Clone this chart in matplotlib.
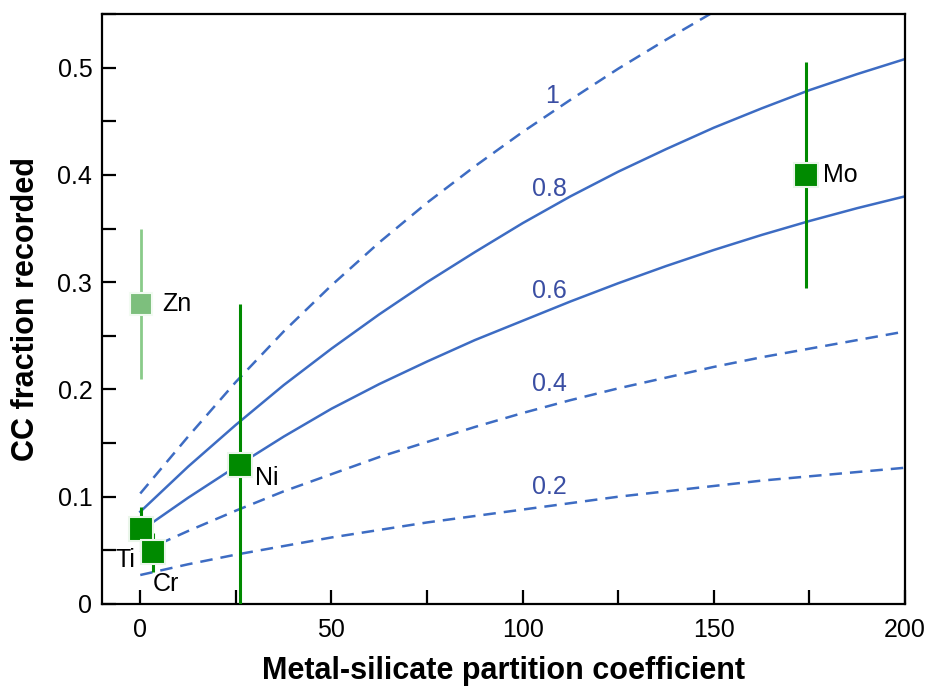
import matplotlib
matplotlib.use("Agg")
import matplotlib.pyplot as plt
from matplotlib.ticker import MultipleLocator, FuncFormatter

plt.rcParams['font.family'] = ['Liberation Sans', 'DejaVu Sans']

# Model curves (fraction labels)
curve_x = [0, 12.5, 25, 37.5, 50, 62.5, 75, 87.5, 100, 112.5, 125, 137.5, 150,
           162.5, 175, 187.5, 200]
curve_1 = [0.103, 0.156, 0.207, 0.254, 0.297, 0.337, 0.374, 0.408, 0.440, 0.470,
           0.499, 0.526, 0.552, 0.577, 0.601, 0.624, 0.646]
curve_08 = [0.086, 0.128, 0.167, 0.204, 0.238, 0.270, 0.300, 0.328, 0.355, 0.380,
            0.403, 0.424, 0.444, 0.462, 0.479, 0.494, 0.508]
curve_06 = [0.068, 0.099, 0.128, 0.156, 0.182, 0.205, 0.226, 0.246, 0.264, 0.282,
            0.299, 0.315, 0.330, 0.344, 0.357, 0.369, 0.380]
curve_04 = [0.048, 0.068, 0.087, 0.105, 0.121, 0.137, 0.151, 0.165, 0.178, 0.190,
            0.201, 0.211, 0.221, 0.230, 0.238, 0.246, 0.254]
curve_02 = [0.027, 0.037, 0.046, 0.054, 0.062, 0.069, 0.076, 0.082, 0.088, 0.094,
            0.100, 0.105, 0.110, 0.115, 0.119, 0.123, 0.127]
curve_labels = ["1", "0.8", "0.6", "0.4", "0.2"]
curve_dashed = [True, False, False, True, True]
label_x = [106.0, 102.5, 102.5, 102.5, 102.5]
label_y = [0.474, 0.387, 0.292, 0.205, 0.109]

# Elements
elements = ["Ti", "Cr", "Ni", "Mo"]
elem_x = [0.2, 3.2, 26.0, 174.0]
elem_y = [0.070, 0.048, 0.130, 0.400]
elem_err = [0.020, 0.018, 0.150, 0.105]

zn_x, zn_y, zn_err = 0.2, 0.280, 0.070

line_color = '#3d6cc3'
label_color = '#3a4ea3'
green = '#008a00'

fig = plt.figure(figsize=(9.25, 6.89), dpi=100)
ax = fig.add_axes([0.1103, 0.1234, 0.8681, 0.8563])

curves = [curve_1, curve_08, curve_06, curve_04, curve_02]
for ys, lab, dashed, lx, ly in zip(curves, curve_labels, curve_dashed, label_x, label_y):
    ls = (0, (5.0, 3.2)) if dashed else '-'
    ax.plot(curve_x, ys, color=line_color, lw=1.8, ls=ls, zorder=2)
    ax.text(lx, ly, lab, color=label_color, fontsize=18,
            ha='left', va='center', zorder=3)

# Zn (lighter)
ax.errorbar([zn_x], [zn_y], yerr=[zn_err], fmt='s', color='#8acb8a', ms=16,
            mfc='#7dbf7d', mec='#f2fbf2', mew=1.5, elinewidth=2.0, capsize=0, zorder=4)
ax.text(5.8, zn_y, "Zn", fontsize=18, ha='left', va='center')

for name, x, y, e in zip(elements, elem_x, elem_y, elem_err):
    ax.errorbar([x], [y], yerr=[e], fmt='s', color=green, ms=17, mfc=green,
                mec='#eaf6ea', mew=1.5, elinewidth=2.2, capsize=0, zorder=5)

ax.text(-1.2, 0.041, "Ti", fontsize=18, ha='right', va='center')
ax.text(3.3, 0.019, "Cr", fontsize=18, ha='left', va='center')
ax.text(30.0, 0.117, "Ni", fontsize=18, ha='left', va='center')
ax.text(178.5, 0.400, "Mo", fontsize=18, ha='left', va='center')

ax.set_xlim(-10, 200)
ax.set_ylim(0, 0.55)
ax.xaxis.set_major_locator(MultipleLocator(50))
ax.xaxis.set_minor_locator(MultipleLocator(25))
ax.yaxis.set_major_locator(MultipleLocator(0.1))
ax.yaxis.set_minor_locator(MultipleLocator(0.05))
ax.yaxis.set_major_formatter(FuncFormatter(lambda v, p: "0" if abs(v) < 1e-9 else f"{v:.1f}"))
ax.tick_params(which='both', direction='in', length=10, width=1.6, labelsize=18,
               top=False, right=False)
ax.tick_params(axis='x', pad=10)
ax.tick_params(axis='y', pad=7)
for s in ax.spines.values():
    s.set_linewidth(1.6)

ax.set_xlabel("Metal-silicate partition coefficient", fontsize=22, fontweight='bold', labelpad=10)
ax.set_ylabel("CC fraction recorded", fontsize=22, fontweight='bold', labelpad=12)

fig.savefig("out.png", dpi=100)
